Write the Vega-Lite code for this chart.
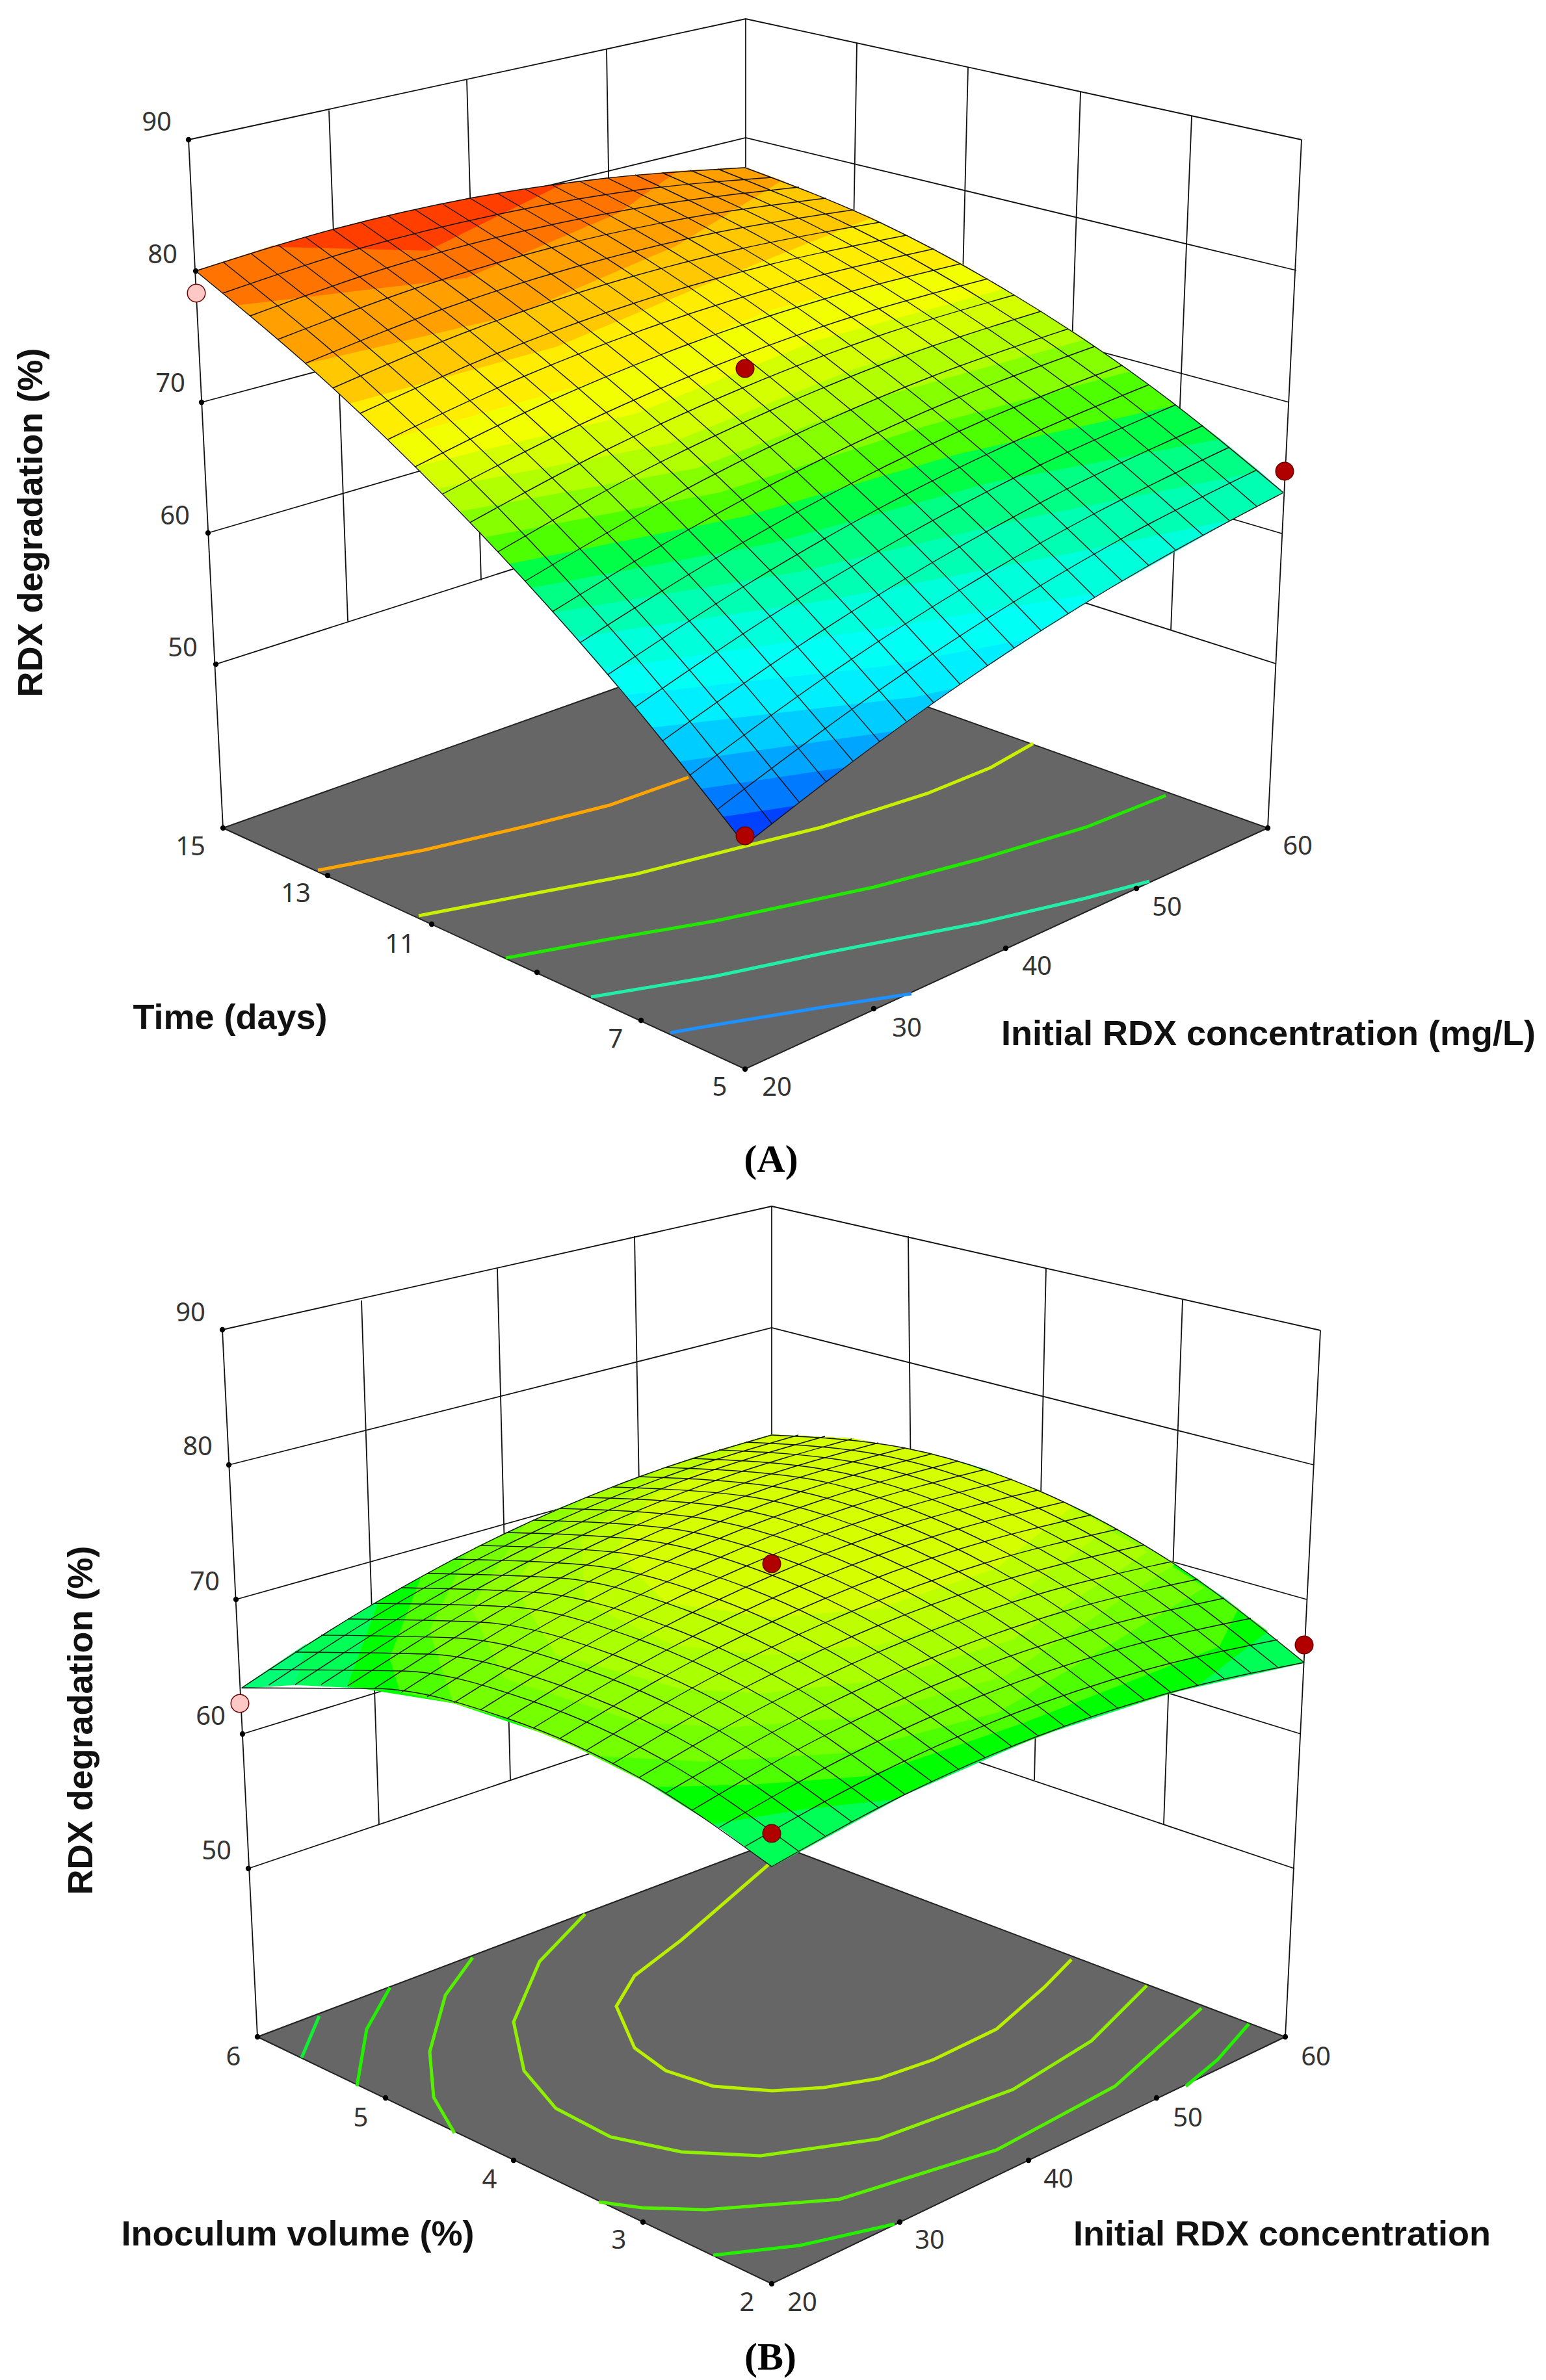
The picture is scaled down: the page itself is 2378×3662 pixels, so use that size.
{"$schema":"https://vega.github.io/schema/vega-lite/v6.json","width":2378,"height":3662,"padding":0,"autosize":"none","background":"white","config":{"view":{"stroke":null}},
"datasets":{
"walls":[
{"l":"a1","x":290,"y":215},{"l":"a1","x":1147,"y":29},{"l":"a1","x":2002,"y":215},
{"l":"a2","x":301,"y":417},{"l":"a2","x":1147,"y":212},{"l":"a2","x":1994,"y":416},
{"l":"a3","x":310,"y":619},{"l":"a3","x":1147,"y":395},{"l":"a3","x":1983,"y":619},
{"l":"a4","x":320,"y":820},{"l":"a4","x":1147,"y":578},{"l":"a4","x":1972,"y":821},
{"l":"a5","x":332,"y":1022},{"l":"a5","x":1147,"y":761},{"l":"a5","x":1962,"y":1021},
{"l":"a6","x":290,"y":215},{"l":"a6","x":343,"y":1274},
{"l":"a7","x":2002,"y":215},{"l":"a7","x":1950,"y":1274},
{"l":"a8","x":1147,"y":29},{"l":"a8","x":1147,"y":988},
{"l":"a9","x":506,"y":170},{"l":"a9","x":535,"y":956},
{"l":"a10","x":718,"y":123},{"l":"a10","x":740,"y":893},
{"l":"a11","x":933,"y":76},{"l":"a11","x":945,"y":825},
{"l":"a12","x":1318,"y":66},{"l":"a12","x":1305,"y":811},
{"l":"a13","x":1489,"y":104},{"l":"a13","x":1470,"y":864},
{"l":"a14","x":1662,"y":142},{"l":"a14","x":1636,"y":916},
{"l":"a15","x":1833,"y":179},{"l":"a15","x":1801,"y":969},
{"l":"b1","x":342,"y":2046},{"l":"b1","x":1187,"y":1856},{"l":"b1","x":2031,"y":2047},
{"l":"b2","x":352,"y":2254},{"l":"b2","x":1187,"y":2043},{"l":"b2","x":2021,"y":2254},
{"l":"b3","x":363,"y":2461},{"l":"b3","x":1187,"y":2230},{"l":"b3","x":2010,"y":2461},
{"l":"b4","x":373,"y":2668},{"l":"b4","x":1187,"y":2417},{"l":"b4","x":2001,"y":2668},
{"l":"b5","x":382,"y":2875},{"l":"b5","x":1187,"y":2604},{"l":"b5","x":1991,"y":2875},
{"l":"b6","x":342,"y":2046},{"l":"b6","x":396,"y":3134},
{"l":"b7","x":2031,"y":2047},{"l":"b7","x":1977,"y":3134},
{"l":"b8","x":1187,"y":1856},{"l":"b8","x":1187,"y":2835},
{"l":"b9","x":556,"y":2001},{"l":"b9","x":583,"y":2808},
{"l":"b10","x":765,"y":1952},{"l":"b10","x":785,"y":2738},
{"l":"b11","x":976,"y":1902},{"l":"b11","x":990,"y":2670},
{"l":"b12","x":1397,"y":1902},{"l":"b12","x":1405,"y":2670},
{"l":"b13","x":1609,"y":1951},{"l":"b13","x":1591,"y":2739},
{"l":"b14","x":1819,"y":2000},{"l":"b14","x":1790,"y":2806}
],
"floors":[
{"p":"a","o":0,"x":343,"y":1274},{"p":"a","o":1,"x":1146,"y":1645},{"p":"a","o":2,"x":1950,"y":1274},{"p":"a","o":3,"x":1147,"y":988},{"p":"a","o":4,"x":343,"y":1274},
{"p":"b","o":0,"x":396,"y":3134},{"p":"b","o":1,"x":1187,"y":3514},{"p":"b","o":2,"x":1977,"y":3134},{"p":"b","o":3,"x":1187,"y":2835},{"p":"b","o":4,"x":396,"y":3134}
],
"contours":[
{"l":"a70","v":"a70","x":489,"y":1339},{"l":"a70","v":"a70","x":652,"y":1308},{"l":"a70","v":"a70","x":815,"y":1270},{"l":"a70","v":"a70","x":937,"y":1239},{"l":"a70","v":"a70","x":1059,"y":1196},
{"l":"a65","v":"a65","x":644,"y":1409},{"l":"a65","v":"a65","x":815,"y":1376},{"l":"a65","v":"a65","x":978,"y":1345},{"l":"a65","v":"a65","x":1146,"y":1302},{"l":"a65","v":"a65","x":1263,"y":1273},{"l":"a65","v":"a65","x":1426,"y":1221},{"l":"a65","v":"a65","x":1524,"y":1181},{"l":"a65","v":"a65","x":1589,"y":1144},
{"l":"a60","v":"a60","x":778,"y":1474},{"l":"a60","v":"a60","x":937,"y":1445},{"l":"a60","v":"a60","x":1100,"y":1417},{"l":"a60","v":"a60","x":1344,"y":1365},{"l":"a60","v":"a60","x":1507,"y":1322},{"l":"a60","v":"a60","x":1670,"y":1273},{"l":"a60","v":"a60","x":1793,"y":1224},
{"l":"a55","v":"a55","x":909,"y":1534},{"l":"a55","v":"a55","x":1100,"y":1502},{"l":"a55","v":"a55","x":1270,"y":1466},{"l":"a55","v":"a55","x":1507,"y":1420},{"l":"a55","v":"a55","x":1670,"y":1382},{"l":"a55","v":"a55","x":1768,"y":1356},
{"l":"a50","v":"a50","x":1031,"y":1589},{"l":"a50","v":"a50","x":1100,"y":1577},{"l":"a50","v":"a50","x":1270,"y":1549},{"l":"a50","v":"a50","x":1402,"y":1529},
{"l":"b1","v":"b1","x":1182,"y":2869},{"l":"b1","v":"b1","x":1048,"y":2925},{"l":"b1","v":"b1","x":976,"y":3006},{"l":"b1","v":"b1","x":948,"y":3087}
],
"contours2":[
{"l":"c1","v":"b1","o":0,"x":1182,"y":2869},{"l":"c1","v":"b1","o":1,"x":1048,"y":2985},{"l":"c1","v":"b1","o":2,"x":976,"y":3040},{"l":"c1","v":"b1","o":3,"x":948,"y":3087},{"l":"c1","v":"b1","o":4,"x":976,"y":3151},{"l":"c1","v":"b1","o":5,"x":1024,"y":3186},{"l":"c1","v":"b1","o":6,"x":1097,"y":3210},{"l":"c1","v":"b1","o":7,"x":1188,"y":3217},{"l":"c1","v":"b1","o":8,"x":1267,"y":3212},{"l":"c1","v":"b1","o":9,"x":1352,"y":3198},{"l":"c1","v":"b1","o":10,"x":1436,"y":3169},{"l":"c1","v":"b1","o":11,"x":1533,"y":3122},{"l":"c1","v":"b1","o":12,"x":1606,"y":3058},{"l":"c1","v":"b1","o":13,"x":1648,"y":3015},
{"l":"c2","v":"b2","o":0,"x":900,"y":2945},{"l":"c2","v":"b2","o":1,"x":830,"y":3018},{"l":"c2","v":"b2","o":2,"x":790,"y":3111},{"l":"c2","v":"b2","o":3,"x":806,"y":3186},{"l":"c2","v":"b2","o":4,"x":855,"y":3244},{"l":"c2","v":"b2","o":5,"x":939,"y":3288},{"l":"c2","v":"b2","o":6,"x":1048,"y":3311},{"l":"c2","v":"b2","o":7,"x":1170,"y":3317},{"l":"c2","v":"b2","o":8,"x":1352,"y":3291},{"l":"c2","v":"b2","o":9,"x":1558,"y":3215},{"l":"c2","v":"b2","o":10,"x":1679,"y":3140},{"l":"c2","v":"b2","o":11,"x":1764,"y":3055},
{"l":"c3a","v":"b3","o":0,"x":727,"y":3012},{"l":"c3a","v":"b3","o":1,"x":685,"y":3070},{"l":"c3a","v":"b3","o":2,"x":661,"y":3157},{"l":"c3a","v":"b3","o":3,"x":667,"y":3227},{"l":"c3a","v":"b3","o":4,"x":699,"y":3282},
{"l":"c3b","v":"b3","o":0,"x":921,"y":3388},{"l":"c3b","v":"b3","o":1,"x":988,"y":3397},{"l":"c3b","v":"b3","o":2,"x":1085,"y":3400},{"l":"c3b","v":"b3","o":3,"x":1291,"y":3384},{"l":"c3b","v":"b3","o":4,"x":1533,"y":3308},{"l":"c3b","v":"b3","o":5,"x":1715,"y":3210},{"l":"c3b","v":"b3","o":6,"x":1848,"y":3090},
{"l":"c4a","v":"b4","o":0,"x":600,"y":3058},{"l":"c4a","v":"b4","o":1,"x":564,"y":3122},{"l":"c4a","v":"b4","o":2,"x":549,"y":3210},
{"l":"c4b","v":"b4","o":0,"x":1097,"y":3470},{"l":"c4b","v":"b4","o":1,"x":1230,"y":3455},{"l":"c4b","v":"b4","o":2,"x":1376,"y":3422},
{"l":"c4c","v":"b4","o":0,"x":1921,"y":3114},{"l":"c4c","v":"b4","o":1,"x":1873,"y":3169},{"l":"c4c","v":"b4","o":2,"x":1824,"y":3210},
{"l":"c5","v":"b5","o":0,"x":491,"y":3102},{"l":"c5","v":"b5","o":1,"x":464,"y":3166},
{"l":"d70","v":"a70","o":0,"x":489,"y":1339},{"l":"d70","v":"a70","o":1,"x":652,"y":1308},{"l":"d70","v":"a70","o":2,"x":815,"y":1270},{"l":"d70","v":"a70","o":3,"x":937,"y":1239},{"l":"d70","v":"a70","o":4,"x":1059,"y":1196},
{"l":"d65","v":"a65","o":0,"x":644,"y":1409},{"l":"d65","v":"a65","o":1,"x":815,"y":1376},{"l":"d65","v":"a65","o":2,"x":978,"y":1345},{"l":"d65","v":"a65","o":3,"x":1146,"y":1302},{"l":"d65","v":"a65","o":4,"x":1263,"y":1273},{"l":"d65","v":"a65","o":5,"x":1426,"y":1221},{"l":"d65","v":"a65","o":6,"x":1524,"y":1181},{"l":"d65","v":"a65","o":7,"x":1589,"y":1144},
{"l":"d60","v":"a60","o":0,"x":778,"y":1474},{"l":"d60","v":"a60","o":1,"x":937,"y":1445},{"l":"d60","v":"a60","o":2,"x":1100,"y":1417},{"l":"d60","v":"a60","o":3,"x":1344,"y":1365},{"l":"d60","v":"a60","o":4,"x":1507,"y":1322},{"l":"d60","v":"a60","o":5,"x":1670,"y":1273},{"l":"d60","v":"a60","o":6,"x":1793,"y":1224},
{"l":"d55","v":"a55","o":0,"x":909,"y":1534},{"l":"d55","v":"a55","o":1,"x":1100,"y":1502},{"l":"d55","v":"a55","o":2,"x":1270,"y":1466},{"l":"d55","v":"a55","o":3,"x":1507,"y":1420},{"l":"d55","v":"a55","o":4,"x":1670,"y":1382},{"l":"d55","v":"a55","o":5,"x":1768,"y":1356},
{"l":"d50","v":"a50","o":0,"x":1031,"y":1589},{"l":"d50","v":"a50","o":1,"x":1100,"y":1577},{"l":"d50","v":"a50","o":2,"x":1270,"y":1549},{"l":"d50","v":"a50","o":3,"x":1402,"y":1529}
],
"bands":[
{"p":"a00","o":0,"z":55.3,"x":1146,"y":1300},{"p":"a00","o":1,"z":55.3,"x":1223,"y":1239},{"p":"a00","o":2,"z":55.3,"x":1112,"y":1256},
{"p":"a01","o":0,"z":56.7,"x":1112,"y":1256},{"p":"a01","o":1,"z":56.7,"x":1223,"y":1239},{"p":"a01","o":2,"z":56.7,"x":1299,"y":1180},{"p":"a01","o":3,"z":56.7,"x":1078,"y":1213},
{"p":"a02","o":0,"z":58.1,"x":1078,"y":1213},{"p":"a02","o":1,"z":58.1,"x":1299,"y":1180},{"p":"a02","o":2,"z":58.1,"x":1376,"y":1124},{"p":"a02","o":3,"z":58.1,"x":1045,"y":1171},
{"p":"a03","o":0,"z":59.6,"x":1045,"y":1171},{"p":"a03","o":1,"z":59.6,"x":1376,"y":1124},{"p":"a03","o":2,"z":59.6,"x":1468,"y":1058},{"p":"a03","o":3,"z":59.6,"x":1405,"y":1072},{"p":"a03","o":4,"z":59.6,"x":1002,"y":1119},
{"p":"a04","o":0,"z":61,"x":1002,"y":1119},{"p":"a04","o":1,"z":61,"x":1405,"y":1072},{"p":"a04","o":2,"z":61,"x":1468,"y":1058},{"p":"a04","o":3,"z":61,"x":1583,"y":982},{"p":"a04","o":4,"z":61,"x":1363,"y":1024},{"p":"a04","o":5,"z":61,"x":960,"y":1069},
{"p":"a05","o":0,"z":62.4,"x":960,"y":1069},{"p":"a05","o":1,"z":62.4,"x":1363,"y":1024},{"p":"a05","o":2,"z":62.4,"x":1583,"y":982},{"p":"a05","o":3,"z":62.4,"x":1698,"y":910},{"p":"a05","o":4,"z":62.4,"x":1317,"y":972},{"p":"a05","o":5,"z":62.4,"x":926,"y":1029},
{"p":"a06","o":0,"z":63.8,"x":926,"y":1029},{"p":"a06","o":1,"z":63.8,"x":1317,"y":972},{"p":"a06","o":2,"z":63.8,"x":1698,"y":910},{"p":"a06","o":3,"z":63.8,"x":1895,"y":799},{"p":"a06","o":4,"z":63.8,"x":1640,"y":852},{"p":"a06","o":5,"z":63.8,"x":1271,"y":923},{"p":"a06","o":6,"z":63.8,"x":884,"y":980},
{"p":"a07","o":0,"z":65.3,"x":884,"y":980},{"p":"a07","o":1,"z":65.3,"x":1271,"y":923},{"p":"a07","o":2,"z":65.3,"x":1640,"y":852},{"p":"a07","o":3,"z":65.3,"x":1895,"y":799},{"p":"a07","o":4,"z":65.3,"x":1974,"y":758},{"p":"a07","o":5,"z":65.3,"x":1936,"y":725},{"p":"a07","o":6,"z":65.3,"x":1581,"y":796},{"p":"a07","o":7,"z":65.3,"x":1229,"y":879},{"p":"a07","o":8,"z":65.3,"x":850,"y":942},
{"p":"a08","o":0,"z":66.7,"x":850,"y":942},{"p":"a08","o":1,"z":66.7,"x":1229,"y":879},{"p":"a08","o":2,"z":66.7,"x":1581,"y":796},{"p":"a08","o":3,"z":66.7,"x":1936,"y":725},{"p":"a08","o":4,"z":66.7,"x":1875,"y":675},{"p":"a08","o":5,"z":66.7,"x":1523,"y":742},{"p":"a08","o":6,"z":66.7,"x":1187,"y":835},{"p":"a08","o":7,"z":66.7,"x":816,"y":904},
{"p":"a09","o":0,"z":68.1,"x":816,"y":904},{"p":"a09","o":1,"z":68.1,"x":1187,"y":835},{"p":"a09","o":2,"z":68.1,"x":1523,"y":742},{"p":"a09","o":3,"z":68.1,"x":1875,"y":675},{"p":"a09","o":4,"z":68.1,"x":1808,"y":623},{"p":"a09","o":5,"z":68.1,"x":1473,"y":698},{"p":"a09","o":6,"z":68.1,"x":1145,"y":794},{"p":"a09","o":7,"z":68.1,"x":783,"y":867},
{"p":"a10","o":0,"z":69.5,"x":783,"y":867},{"p":"a10","o":1,"z":69.5,"x":1145,"y":794},{"p":"a10","o":2,"z":69.5,"x":1473,"y":698},{"p":"a10","o":3,"z":69.5,"x":1808,"y":623},{"p":"a10","o":4,"z":69.5,"x":1738,"y":571},{"p":"a10","o":5,"z":69.5,"x":1423,"y":655},{"p":"a10","o":6,"z":69.5,"x":1107,"y":757},{"p":"a10","o":7,"z":69.5,"x":745,"y":826},
{"p":"a11","o":0,"z":70.9,"x":745,"y":826},{"p":"a11","o":1,"z":70.9,"x":1107,"y":757},{"p":"a11","o":2,"z":70.9,"x":1423,"y":655},{"p":"a11","o":3,"z":70.9,"x":1738,"y":571},{"p":"a11","o":4,"z":70.9,"x":1668,"y":522},{"p":"a11","o":5,"z":70.9,"x":1364,"y":607},{"p":"a11","o":6,"z":70.9,"x":1070,"y":720},{"p":"a11","o":7,"z":70.9,"x":707,"y":786},
{"p":"a12","o":0,"z":72.4,"x":707,"y":786},{"p":"a12","o":1,"z":72.4,"x":1070,"y":720},{"p":"a12","o":2,"z":72.4,"x":1364,"y":607},{"p":"a12","o":3,"z":72.4,"x":1668,"y":522},{"p":"a12","o":4,"z":72.4,"x":1601,"y":479},{"p":"a12","o":5,"z":72.4,"x":1314,"y":567},{"p":"a12","o":6,"z":72.4,"x":1028,"y":682},{"p":"a12","o":7,"z":72.4,"x":673,"y":751},
{"p":"a13","o":0,"z":73.8,"x":673,"y":751},{"p":"a13","o":1,"z":73.8,"x":1028,"y":682},{"p":"a13","o":2,"z":73.8,"x":1314,"y":567},{"p":"a13","o":3,"z":73.8,"x":1601,"y":479},{"p":"a13","o":4,"z":73.8,"x":1543,"y":444},{"p":"a13","o":5,"z":73.8,"x":1256,"y":523},{"p":"a13","o":6,"z":73.8,"x":977,"y":636},{"p":"a13","o":7,"z":73.8,"x":639,"y":717},
{"p":"a14","o":0,"z":75.2,"x":639,"y":717},{"p":"a14","o":1,"z":75.2,"x":977,"y":636},{"p":"a14","o":2,"z":75.2,"x":1256,"y":523},{"p":"a14","o":3,"z":75.2,"x":1543,"y":444},{"p":"a14","o":4,"z":75.2,"x":1477,"y":405},{"p":"a14","o":5,"z":75.2,"x":1189,"y":475},{"p":"a14","o":6,"z":75.2,"x":918,"y":585},{"p":"a14","o":7,"z":75.2,"x":597,"y":676},
{"p":"a15","o":0,"z":76.6,"x":597,"y":676},{"p":"a15","o":1,"z":76.6,"x":918,"y":585},{"p":"a15","o":2,"z":76.6,"x":1189,"y":475},{"p":"a15","o":3,"z":76.6,"x":1477,"y":405},{"p":"a15","o":4,"z":76.6,"x":1339,"y":335},{"p":"a15","o":5,"z":76.6,"x":1114,"y":425},{"p":"a15","o":6,"z":76.6,"x":855,"y":533},{"p":"a15","o":7,"z":76.6,"x":538,"y":620},
{"p":"a16","o":0,"z":78,"x":538,"y":620},{"p":"a16","o":1,"z":78,"x":855,"y":533},{"p":"a16","o":2,"z":78,"x":1114,"y":425},{"p":"a16","o":3,"z":78,"x":1339,"y":335},{"p":"a16","o":4,"z":78,"x":1201,"y":278},{"p":"a16","o":5,"z":78,"x":1039,"y":378},{"p":"a16","o":6,"z":78,"x":792,"y":484},{"p":"a16","o":7,"z":78,"x":470,"y":559},
{"p":"a17","o":0,"z":79.5,"x":470,"y":559},{"p":"a17","o":1,"z":79.5,"x":792,"y":484},{"p":"a17","o":2,"z":79.5,"x":1039,"y":378},{"p":"a17","o":3,"z":79.5,"x":1201,"y":278},{"p":"a17","o":4,"z":79.5,"x":1146,"y":258},{"p":"a17","o":5,"z":79.5,"x":1040,"y":264},{"p":"a17","o":6,"z":79.5,"x":951,"y":327},{"p":"a17","o":7,"z":79.5,"x":717,"y":427},{"p":"a17","o":8,"z":79.5,"x":364,"y":469},
{"p":"a18","o":0,"z":80.9,"x":364,"y":469},{"p":"a18","o":1,"z":80.9,"x":717,"y":427},{"p":"a18","o":2,"z":80.9,"x":951,"y":327},{"p":"a18","o":3,"z":80.9,"x":1040,"y":264},{"p":"a18","o":4,"z":80.9,"x":934,"y":274},{"p":"a18","o":5,"z":80.9,"x":864,"y":283},{"p":"a18","o":6,"z":80.9,"x":658,"y":385},{"p":"a18","o":7,"z":80.9,"x":419,"y":379},{"p":"a18","o":8,"z":80.9,"x":301,"y":417},
{"p":"a19","o":0,"z":82.3,"x":419,"y":379},{"p":"a19","o":1,"z":82.3,"x":658,"y":385},{"p":"a19","o":2,"z":82.3,"x":864,"y":283},{"p":"a19","o":3,"z":82.3,"x":723,"y":305},{"p":"a19","o":4,"z":82.3,"x":583,"y":335},{"p":"a19","o":5,"z":82.3,"x":512,"y":353},
{"p":"b0","o":0,"z":67.8,"x":1187,"y":2872},{"p":"b0","o":1,"z":67.8,"x":1392,"y":2761},{"p":"b0","o":2,"z":67.8,"x":1597,"y":2671},{"p":"b0","o":3,"z":67.8,"x":1801,"y":2604},{"p":"b0","o":4,"z":67.8,"x":2006,"y":2558},{"p":"b0","o":5,"z":67.8,"x":1883,"y":2459},{"p":"b0","o":6,"z":67.8,"x":1801,"y":2403},{"p":"b0","o":7,"z":67.8,"x":1678,"y":2331},{"p":"b0","o":8,"z":67.8,"x":1596,"y":2293},{"p":"b0","o":9,"z":67.8,"x":1515,"y":2261},{"p":"b0","o":10,"z":67.8,"x":1433,"y":2237},{"p":"b0","o":11,"z":67.8,"x":1310,"y":2214},{"p":"b0","o":12,"z":67.8,"x":1187,"y":2208},{"p":"b0","o":13,"z":67.8,"x":1024,"y":2258},{"p":"b0","o":14,"z":67.8,"x":861,"y":2321},{"p":"b0","o":15,"z":67.8,"x":698,"y":2399},{"p":"b0","o":16,"z":67.8,"x":576,"y":2467},{"p":"b0","o":17,"z":67.8,"x":454,"y":2542},{"p":"b0","o":18,"z":67.8,"x":372,"y":2597},{"p":"b0","o":19,"z":67.8,"x":454,"y":2592},{"p":"b0","o":20,"z":67.8,"x":576,"y":2598},{"p":"b0","o":21,"z":67.8,"x":698,"y":2620},{"p":"b0","o":22,"z":67.8,"x":780,"y":2644},{"p":"b0","o":23,"z":67.8,"x":902,"y":2693},{"p":"b0","o":24,"z":67.8,"x":983,"y":2735},{"p":"b0","o":25,"z":67.8,"x":1106,"y":2812},
{"p":"b1","o":0,"z":67.1,"x":372,"y":2597},{"p":"b1","o":1,"z":67.1,"x":470,"y":2531},{"p":"b1","o":2,"z":67.1,"x":453,"y":2592},
{"p":"b2","o":0,"z":68.8,"x":584,"y":2462},{"p":"b2","o":1,"z":68.8,"x":535,"y":2594},{"p":"b2","o":2,"z":68.8,"x":698,"y":2620},{"p":"b2","o":3,"z":68.8,"x":861,"y":2675},{"p":"b2","o":4,"z":68.8,"x":983,"y":2735},{"p":"b2","o":5,"z":68.8,"x":1097,"y":2806},{"p":"b2","o":6,"z":68.8,"x":1236,"y":2783},{"p":"b2","o":7,"z":68.8,"x":1375,"y":2768},{"p":"b2","o":8,"z":68.8,"x":1515,"y":2704},{"p":"b2","o":9,"z":68.8,"x":1678,"y":2641},{"p":"b2","o":10,"z":68.8,"x":1842,"y":2593},{"p":"b2","o":11,"z":68.8,"x":1949,"y":2510},{"p":"b2","o":12,"z":68.8,"x":1842,"y":2430},{"p":"b2","o":13,"z":68.8,"x":1703,"y":2345},{"p":"b2","o":14,"z":68.8,"x":1596,"y":2293},{"p":"b2","o":15,"z":68.8,"x":1433,"y":2237},{"p":"b2","o":16,"z":68.8,"x":1310,"y":2214},{"p":"b2","o":17,"z":68.8,"x":1187,"y":2208},{"p":"b2","o":18,"z":68.8,"x":1065,"y":2244},{"p":"b2","o":19,"z":68.8,"x":861,"y":2321},{"p":"b2","o":20,"z":68.8,"x":698,"y":2399},
{"p":"b3","o":0,"z":69.5,"x":649,"y":2425},{"p":"b3","o":1,"z":69.5,"x":600,"y":2551},{"p":"b3","o":2,"z":69.5,"x":616,"y":2603},{"p":"b3","o":3,"z":69.5,"x":698,"y":2620},{"p":"b3","o":4,"z":69.5,"x":780,"y":2644},{"p":"b3","o":5,"z":69.5,"x":861,"y":2675},{"p":"b3","o":6,"z":69.5,"x":1008,"y":2749},{"p":"b3","o":7,"z":69.5,"x":1160,"y":2745},{"p":"b3","o":8,"z":69.5,"x":1334,"y":2732},{"p":"b3","o":9,"z":69.5,"x":1572,"y":2651},{"p":"b3","o":10,"z":69.5,"x":1875,"y":2533},{"p":"b3","o":11,"z":69.5,"x":1904,"y":2475},{"p":"b3","o":12,"z":69.5,"x":1703,"y":2345},{"p":"b3","o":13,"z":69.5,"x":1596,"y":2293},{"p":"b3","o":14,"z":69.5,"x":1433,"y":2237},{"p":"b3","o":15,"z":69.5,"x":1310,"y":2214},{"p":"b3","o":16,"z":69.5,"x":1187,"y":2208},{"p":"b3","o":17,"z":69.5,"x":1065,"y":2244},{"p":"b3","o":18,"z":69.5,"x":861,"y":2321},{"p":"b3","o":19,"z":69.5,"x":730,"y":2382},
{"p":"b4","o":0,"z":70.4,"x":720,"y":2388},{"p":"b4","o":1,"z":70.4,"x":661,"y":2509},{"p":"b4","o":2,"z":70.4,"x":698,"y":2620},{"p":"b4","o":3,"z":70.4,"x":780,"y":2644},{"p":"b4","o":4,"z":70.4,"x":918,"y":2701},{"p":"b4","o":5,"z":70.4,"x":1085,"y":2710},{"p":"b4","o":6,"z":70.4,"x":1294,"y":2697},{"p":"b4","o":7,"z":70.4,"x":1535,"y":2634},{"p":"b4","o":8,"z":70.4,"x":1851,"y":2443},{"p":"b4","o":9,"z":70.4,"x":1703,"y":2345},{"p":"b4","o":10,"z":70.4,"x":1596,"y":2293},{"p":"b4","o":11,"z":70.4,"x":1433,"y":2237},{"p":"b4","o":12,"z":70.4,"x":1310,"y":2214},{"p":"b4","o":13,"z":70.4,"x":1187,"y":2208},{"p":"b4","o":14,"z":70.4,"x":1065,"y":2244},{"p":"b4","o":15,"z":70.4,"x":861,"y":2321},
{"p":"b5","o":0,"z":71.2,"x":809,"y":2345},{"p":"b5","o":1,"z":71.2,"x":725,"y":2473},{"p":"b5","o":2,"z":71.2,"x":776,"y":2582},{"p":"b5","o":3,"z":71.2,"x":983,"y":2650},{"p":"b5","o":4,"z":71.2,"x":1128,"y":2657},{"p":"b5","o":5,"z":71.2,"x":1323,"y":2641},{"p":"b5","o":6,"z":71.2,"x":1546,"y":2578},{"p":"b5","o":7,"z":71.2,"x":1807,"y":2406},{"p":"b5","o":8,"z":71.2,"x":1680,"y":2332},{"p":"b5","o":9,"z":71.2,"x":1596,"y":2293},{"p":"b5","o":10,"z":71.2,"x":1433,"y":2237},{"p":"b5","o":11,"z":71.2,"x":1310,"y":2214},{"p":"b5","o":12,"z":71.2,"x":1187,"y":2208},{"p":"b5","o":13,"z":71.2,"x":1065,"y":2244},{"p":"b5","o":14,"z":71.2,"x":942,"y":2288},
{"p":"b6","o":0,"z":72.1,"x":898,"y":2306},{"p":"b6","o":1,"z":72.1,"x":790,"y":2438},{"p":"b6","o":2,"z":72.1,"x":855,"y":2545},{"p":"b6","o":3,"z":72.1,"x":1048,"y":2598},{"p":"b6","o":4,"z":72.1,"x":1170,"y":2605},{"p":"b6","o":5,"z":72.1,"x":1352,"y":2585},{"p":"b6","o":6,"z":72.1,"x":1558,"y":2522},{"p":"b6","o":7,"z":72.1,"x":1764,"y":2388},{"p":"b6","o":8,"z":72.1,"x":1596,"y":2293},{"p":"b6","o":9,"z":72.1,"x":1433,"y":2237},{"p":"b6","o":10,"z":72.1,"x":1310,"y":2214},{"p":"b6","o":11,"z":72.1,"x":1187,"y":2208},{"p":"b6","o":12,"z":72.1,"x":1065,"y":2244},
{"p":"b7","o":0,"z":72.9,"x":1014,"y":2261},{"p":"b7","o":1,"z":72.9,"x":895,"y":2372},{"p":"b7","o":2,"z":72.9,"x":901,"y":2466},{"p":"b7","o":3,"z":72.9,"x":1036,"y":2531},{"p":"b7","o":4,"z":72.9,"x":1179,"y":2546},{"p":"b7","o":5,"z":72.9,"x":1352,"y":2530},{"p":"b7","o":6,"z":72.9,"x":1545,"y":2467},{"p":"b7","o":7,"z":72.9,"x":1706,"y":2350},{"p":"b7","o":8,"z":72.9,"x":1596,"y":2293},{"p":"b7","o":9,"z":72.9,"x":1433,"y":2237},{"p":"b7","o":10,"z":72.9,"x":1310,"y":2214},{"p":"b7","o":11,"z":72.9,"x":1187,"y":2208},{"p":"b7","o":12,"z":72.9,"x":1100,"y":2235},
{"p":"b8","o":0,"z":73.9,"x":1130,"y":2230},{"p":"b8","o":1,"z":73.9,"x":1000,"y":2305},{"p":"b8","o":2,"z":73.9,"x":948,"y":2388},{"p":"b8","o":3,"z":73.9,"x":1024,"y":2465},{"p":"b8","o":4,"z":73.9,"x":1188,"y":2488},{"p":"b8","o":5,"z":73.9,"x":1352,"y":2474},{"p":"b8","o":6,"z":73.9,"x":1533,"y":2412},{"p":"b8","o":7,"z":73.9,"x":1648,"y":2318},{"p":"b8","o":8,"z":73.9,"x":1555,"y":2276},{"p":"b8","o":9,"z":73.9,"x":1433,"y":2237},{"p":"b8","o":10,"z":73.9,"x":1310,"y":2214},{"p":"b8","o":11,"z":73.9,"x":1187,"y":2208}
],
"grid":[
{"l":"aj0","x":1146,"y":1300},{"l":"aj0","x":1353,"y":1141},{"l":"aj0","x":1560,"y":997},{"l":"aj0","x":1767,"y":870},{"l":"aj0","x":1974,"y":758},
{"l":"aj1","x":1104,"y":1245},{"l":"aj1","x":1311,"y":1091},{"l":"aj1","x":1518,"y":952},{"l":"aj1","x":1725,"y":829},{"l":"aj1","x":1933,"y":723},
{"l":"aj2","x":1062,"y":1192},{"l":"aj2","x":1269,"y":1042},{"l":"aj2","x":1476,"y":908},{"l":"aj2","x":1684,"y":790},{"l":"aj2","x":1891,"y":688},
{"l":"aj3","x":1019,"y":1140},{"l":"aj3","x":1227,"y":995},{"l":"aj3","x":1435,"y":865},{"l":"aj3","x":1642,"y":752},{"l":"aj3","x":1850,"y":655},
{"l":"aj4","x":977,"y":1088},{"l":"aj4","x":1185,"y":948},{"l":"aj4","x":1393,"y":824},{"l":"aj4","x":1601,"y":715},{"l":"aj4","x":1808,"y":623},
{"l":"aj5","x":935,"y":1038},{"l":"aj5","x":1143,"y":903},{"l":"aj5","x":1351,"y":783},{"l":"aj5","x":1559,"y":680},{"l":"aj5","x":1767,"y":592},
{"l":"aj6","x":892,"y":989},{"l":"aj6","x":1101,"y":859},{"l":"aj6","x":1309,"y":744},{"l":"aj6","x":1517,"y":645},{"l":"aj6","x":1726,"y":562},
{"l":"aj7","x":850,"y":941},{"l":"aj7","x":1059,"y":815},{"l":"aj7","x":1267,"y":705},{"l":"aj7","x":1476,"y":611},{"l":"aj7","x":1684,"y":533},
{"l":"aj8","x":808,"y":894},{"l":"aj8","x":1017,"y":773},{"l":"aj8","x":1225,"y":668},{"l":"aj8","x":1434,"y":579},{"l":"aj8","x":1643,"y":506},
{"l":"aj9","x":766,"y":849},{"l":"aj9","x":975,"y":732},{"l":"aj9","x":1184,"y":632},{"l":"aj9","x":1393,"y":547},{"l":"aj9","x":1601,"y":479},
{"l":"aj10","x":723,"y":804},{"l":"aj10","x":933,"y":692},{"l":"aj10","x":1142,"y":597},{"l":"aj10","x":1351,"y":517},{"l":"aj10","x":1560,"y":454},
{"l":"aj11","x":681,"y":760},{"l":"aj11","x":891,"y":654},{"l":"aj11","x":1100,"y":563},{"l":"aj11","x":1309,"y":488},{"l":"aj11","x":1519,"y":429},
{"l":"aj12","x":639,"y":718},{"l":"aj12","x":848,"y":616},{"l":"aj12","x":1058,"y":530},{"l":"aj12","x":1268,"y":460},{"l":"aj12","x":1477,"y":406},
{"l":"aj13","x":597,"y":676},{"l":"aj13","x":806,"y":579},{"l":"aj13","x":1016,"y":498},{"l":"aj13","x":1226,"y":433},{"l":"aj13","x":1436,"y":383},
{"l":"aj14","x":554,"y":636},{"l":"aj14","x":764,"y":544},{"l":"aj14","x":974,"y":467},{"l":"aj14","x":1184,"y":407},{"l":"aj14","x":1394,"y":362},
{"l":"aj15","x":512,"y":597},{"l":"aj15","x":722,"y":509},{"l":"aj15","x":933,"y":437},{"l":"aj15","x":1143,"y":382},{"l":"aj15","x":1353,"y":342},
{"l":"aj16","x":470,"y":559},{"l":"aj16","x":680,"y":476},{"l":"aj16","x":891,"y":409},{"l":"aj16","x":1101,"y":358},{"l":"aj16","x":1312,"y":323},
{"l":"aj17","x":428,"y":522},{"l":"aj17","x":638,"y":444},{"l":"aj17","x":849,"y":381},{"l":"aj17","x":1060,"y":335},{"l":"aj17","x":1270,"y":305},
{"l":"aj18","x":385,"y":486},{"l":"aj18","x":596,"y":412},{"l":"aj18","x":807,"y":355},{"l":"aj18","x":1018,"y":314},{"l":"aj18","x":1229,"y":288},
{"l":"aj19","x":343,"y":451},{"l":"aj19","x":554,"y":382},{"l":"aj19","x":765,"y":330},{"l":"aj19","x":976,"y":293},{"l":"aj19","x":1187,"y":273},
{"l":"aj20","x":301,"y":417},{"l":"aj20","x":512,"y":353},{"l":"aj20","x":723,"y":305},{"l":"aj20","x":934,"y":274},{"l":"aj20","x":1146,"y":258},
{"l":"ai0","x":1146,"y":1300},{"l":"ai0","x":935,"y":1038},{"l":"ai0","x":723,"y":804},{"l":"ai0","x":512,"y":597},{"l":"ai0","x":301,"y":417},
{"l":"ai1","x":1187,"y":1267},{"l":"ai1","x":977,"y":1010},{"l":"ai1","x":765,"y":780},{"l":"ai1","x":554,"y":578},{"l":"ai1","x":343,"y":403},
{"l":"ai2","x":1229,"y":1234},{"l":"ai2","x":1018,"y":982},{"l":"ai2","x":807,"y":757},{"l":"ai2","x":596,"y":560},{"l":"ai2","x":386,"y":390},
{"l":"ai3","x":1270,"y":1202},{"l":"ai3","x":1060,"y":955},{"l":"ai3","x":849,"y":735},{"l":"ai3","x":638,"y":542},{"l":"ai3","x":428,"y":377},
{"l":"ai4","x":1312,"y":1171},{"l":"ai4","x":1101,"y":929},{"l":"ai4","x":891,"y":713},{"l":"ai4","x":680,"y":525},{"l":"ai4","x":470,"y":365},
{"l":"ai5","x":1353,"y":1141},{"l":"ai5","x":1143,"y":903},{"l":"ai5","x":933,"y":692},{"l":"ai5","x":722,"y":509},{"l":"ai5","x":512,"y":353},
{"l":"ai6","x":1394,"y":1110},{"l":"ai6","x":1185,"y":878},{"l":"ai6","x":974,"y":672},{"l":"ai6","x":764,"y":494},{"l":"ai6","x":555,"y":342},
{"l":"ai7","x":1436,"y":1081},{"l":"ai7","x":1226,"y":853},{"l":"ai7","x":1016,"y":652},{"l":"ai7","x":806,"y":479},{"l":"ai7","x":597,"y":332},
{"l":"ai8","x":1477,"y":1053},{"l":"ai8","x":1268,"y":829},{"l":"ai8","x":1058,"y":633},{"l":"ai8","x":848,"y":464},{"l":"ai8","x":639,"y":323},
{"l":"ai9","x":1519,"y":1024},{"l":"ai9","x":1309,"y":806},{"l":"ai9","x":1100,"y":614},{"l":"ai9","x":890,"y":451},{"l":"ai9","x":681,"y":314},
{"l":"ai10","x":1560,"y":997},{"l":"ai10","x":1351,"y":783},{"l":"ai10","x":1142,"y":597},{"l":"ai10","x":933,"y":437},{"l":"ai10","x":723,"y":305},
{"l":"ai11","x":1601,"y":970},{"l":"ai11","x":1393,"y":761},{"l":"ai11","x":1184,"y":580},{"l":"ai11","x":975,"y":425},{"l":"ai11","x":766,"y":298},
{"l":"ai12","x":1643,"y":944},{"l":"ai12","x":1434,"y":740},{"l":"ai12","x":1225,"y":563},{"l":"ai12","x":1017,"y":413},{"l":"ai12","x":808,"y":291},
{"l":"ai13","x":1684,"y":919},{"l":"ai13","x":1476,"y":719},{"l":"ai13","x":1267,"y":547},{"l":"ai13","x":1059,"y":402},{"l":"ai13","x":850,"y":285},
{"l":"ai14","x":1726,"y":894},{"l":"ai14","x":1517,"y":699},{"l":"ai14","x":1309,"y":532},{"l":"ai14","x":1101,"y":392},{"l":"ai14","x":892,"y":279},
{"l":"ai15","x":1767,"y":870},{"l":"ai15","x":1559,"y":680},{"l":"ai15","x":1351,"y":517},{"l":"ai15","x":1143,"y":382},{"l":"ai15","x":935,"y":274},
{"l":"ai16","x":1808,"y":846},{"l":"ai16","x":1601,"y":661},{"l":"ai16","x":1393,"y":503},{"l":"ai16","x":1185,"y":373},{"l":"ai16","x":977,"y":269},
{"l":"ai17","x":1850,"y":823},{"l":"ai17","x":1642,"y":643},{"l":"ai17","x":1435,"y":490},{"l":"ai17","x":1227,"y":364},{"l":"ai17","x":1019,"y":266},
{"l":"ai18","x":1891,"y":801},{"l":"ai18","x":1684,"y":625},{"l":"ai18","x":1476,"y":477},{"l":"ai18","x":1269,"y":356},{"l":"ai18","x":1062,"y":262},
{"l":"ai19","x":1933,"y":779},{"l":"ai19","x":1726,"y":608},{"l":"ai19","x":1518,"y":465},{"l":"ai19","x":1311,"y":349},{"l":"ai19","x":1104,"y":260},
{"l":"ai20","x":1974,"y":758},{"l":"ai20","x":1767,"y":592},{"l":"ai20","x":1560,"y":454},{"l":"ai20","x":1353,"y":342},{"l":"ai20","x":1146,"y":258},
{"l":"bj0","x":1187,"y":2872},{"l":"bj0","x":1392,"y":2761},{"l":"bj0","x":1597,"y":2671},{"l":"bj0","x":1801,"y":2604},{"l":"bj0","x":2006,"y":2558},
{"l":"bj1","x":1146,"y":2841},{"l":"bj1","x":1351,"y":2729},{"l":"bj1","x":1556,"y":2638},{"l":"bj1","x":1760,"y":2570},{"l":"bj1","x":1965,"y":2523},
{"l":"bj2","x":1106,"y":2812},{"l":"bj2","x":1310,"y":2699},{"l":"bj2","x":1515,"y":2607},{"l":"bj2","x":1719,"y":2538},{"l":"bj2","x":1924,"y":2490},
{"l":"bj3","x":1065,"y":2785},{"l":"bj3","x":1269,"y":2670},{"l":"bj3","x":1474,"y":2578},{"l":"bj3","x":1679,"y":2508},{"l":"bj3","x":1883,"y":2459},
{"l":"bj4","x":1024,"y":2759},{"l":"bj4","x":1229,"y":2644},{"l":"bj4","x":1433,"y":2551},{"l":"bj4","x":1638,"y":2479},{"l":"bj4","x":1842,"y":2430},
{"l":"bj5","x":983,"y":2735},{"l":"bj5","x":1188,"y":2619},{"l":"bj5","x":1392,"y":2525},{"l":"bj5","x":1597,"y":2453},{"l":"bj5","x":1801,"y":2403},
{"l":"bj6","x":942,"y":2714},{"l":"bj6","x":1147,"y":2596},{"l":"bj6","x":1351,"y":2501},{"l":"bj6","x":1556,"y":2428},{"l":"bj6","x":1760,"y":2377},
{"l":"bj7","x":902,"y":2693},{"l":"bj7","x":1106,"y":2575},{"l":"bj7","x":1311,"y":2479},{"l":"bj7","x":1515,"y":2405},{"l":"bj7","x":1719,"y":2353},
{"l":"bj8","x":861,"y":2675},{"l":"bj8","x":1065,"y":2556},{"l":"bj8","x":1270,"y":2459},{"l":"bj8","x":1474,"y":2384},{"l":"bj8","x":1678,"y":2331},
{"l":"bj9","x":820,"y":2659},{"l":"bj9","x":1025,"y":2539},{"l":"bj9","x":1229,"y":2441},{"l":"bj9","x":1433,"y":2365},{"l":"bj9","x":1637,"y":2311},
{"l":"bj10","x":780,"y":2644},{"l":"bj10","x":984,"y":2523},{"l":"bj10","x":1188,"y":2424},{"l":"bj10","x":1392,"y":2347},{"l":"bj10","x":1596,"y":2293},
{"l":"bj11","x":739,"y":2631},{"l":"bj11","x":943,"y":2509},{"l":"bj11","x":1147,"y":2410},{"l":"bj11","x":1351,"y":2332},{"l":"bj11","x":1556,"y":2276},
{"l":"bj12","x":698,"y":2620},{"l":"bj12","x":902,"y":2497},{"l":"bj12","x":1106,"y":2397},{"l":"bj12","x":1310,"y":2318},{"l":"bj12","x":1515,"y":2261},
{"l":"bj13","x":657,"y":2611},{"l":"bj13","x":861,"y":2487},{"l":"bj13","x":1065,"y":2385},{"l":"bj13","x":1270,"y":2306},{"l":"bj13","x":1474,"y":2248},
{"l":"bj14","x":617,"y":2604},{"l":"bj14","x":821,"y":2479},{"l":"bj14","x":1025,"y":2376},{"l":"bj14","x":1229,"y":2296},{"l":"bj14","x":1433,"y":2237},
{"l":"bj15","x":576,"y":2598},{"l":"bj15","x":780,"y":2472},{"l":"bj15","x":984,"y":2369},{"l":"bj15","x":1188,"y":2287},{"l":"bj15","x":1392,"y":2228},
{"l":"bj16","x":535,"y":2594},{"l":"bj16","x":739,"y":2468},{"l":"bj16","x":943,"y":2363},{"l":"bj16","x":1147,"y":2281},{"l":"bj16","x":1351,"y":2220},
{"l":"bj17","x":494,"y":2592},{"l":"bj17","x":698,"y":2465},{"l":"bj17","x":902,"y":2359},{"l":"bj17","x":1106,"y":2276},{"l":"bj17","x":1310,"y":2214},
{"l":"bj18","x":454,"y":2592},{"l":"bj18","x":657,"y":2464},{"l":"bj18","x":861,"y":2357},{"l":"bj18","x":1065,"y":2273},{"l":"bj18","x":1269,"y":2210},
{"l":"bj19","x":413,"y":2593},{"l":"bj19","x":616,"y":2464},{"l":"bj19","x":821,"y":2357},{"l":"bj19","x":1024,"y":2272},{"l":"bj19","x":1228,"y":2208},
{"l":"bj20","x":372,"y":2597},{"l":"bj20","x":576,"y":2467},{"l":"bj20","x":780,"y":2358},{"l":"bj20","x":984,"y":2272},{"l":"bj20","x":1187,"y":2208},
{"l":"bi0","x":1187,"y":2872},{"l":"bi0","x":983,"y":2735},{"l":"bi0","x":780,"y":2644},{"l":"bi0","x":576,"y":2598},{"l":"bi0","x":372,"y":2597},
{"l":"bi1","x":1228,"y":2848},{"l":"bi1","x":1024,"y":2710},{"l":"bi1","x":820,"y":2618},{"l":"bi1","x":617,"y":2571},{"l":"bi1","x":413,"y":2569},
{"l":"bi2","x":1269,"y":2825},{"l":"bi2","x":1065,"y":2686},{"l":"bi2","x":861,"y":2593},{"l":"bi2","x":657,"y":2545},{"l":"bi2","x":454,"y":2542},
{"l":"bi3","x":1310,"y":2803},{"l":"bi3","x":1106,"y":2663},{"l":"bi3","x":902,"y":2569},{"l":"bi3","x":698,"y":2520},{"l":"bi3","x":494,"y":2516},
{"l":"bi4","x":1351,"y":2781},{"l":"bi4","x":1147,"y":2641},{"l":"bi4","x":943,"y":2546},{"l":"bi4","x":739,"y":2496},{"l":"bi4","x":535,"y":2491},
{"l":"bi5","x":1392,"y":2761},{"l":"bi5","x":1188,"y":2619},{"l":"bi5","x":984,"y":2523},{"l":"bi5","x":780,"y":2472},{"l":"bi5","x":576,"y":2467},
{"l":"bi6","x":1433,"y":2741},{"l":"bi6","x":1228,"y":2599},{"l":"bi6","x":1025,"y":2502},{"l":"bi6","x":821,"y":2450},{"l":"bi6","x":617,"y":2443},
{"l":"bi7","x":1474,"y":2722},{"l":"bi7","x":1269,"y":2579},{"l":"bi7","x":1065,"y":2481},{"l":"bi7","x":861,"y":2428},{"l":"bi7","x":657,"y":2421},
{"l":"bi8","x":1515,"y":2704},{"l":"bi8","x":1310,"y":2560},{"l":"bi8","x":1106,"y":2461},{"l":"bi8","x":902,"y":2408},{"l":"bi8","x":698,"y":2399},
{"l":"bi9","x":1556,"y":2687},{"l":"bi9","x":1351,"y":2542},{"l":"bi9","x":1147,"y":2442},{"l":"bi9","x":943,"y":2388},{"l":"bi9","x":739,"y":2378},
{"l":"bi10","x":1597,"y":2671},{"l":"bi10","x":1392,"y":2525},{"l":"bi10","x":1188,"y":2424},{"l":"bi10","x":984,"y":2369},{"l":"bi10","x":780,"y":2358},
{"l":"bi11","x":1637,"y":2656},{"l":"bi11","x":1433,"y":2509},{"l":"bi11","x":1229,"y":2407},{"l":"bi11","x":1024,"y":2351},{"l":"bi11","x":820,"y":2339},
{"l":"bi12","x":1678,"y":2641},{"l":"bi12","x":1474,"y":2494},{"l":"bi12","x":1270,"y":2391},{"l":"bi12","x":1065,"y":2334},{"l":"bi12","x":861,"y":2321},
{"l":"bi13","x":1719,"y":2628},{"l":"bi13","x":1515,"y":2479},{"l":"bi13","x":1311,"y":2376},{"l":"bi13","x":1106,"y":2317},{"l":"bi13","x":902,"y":2304},
{"l":"bi14","x":1760,"y":2615},{"l":"bi14","x":1556,"y":2465},{"l":"bi14","x":1351,"y":2361},{"l":"bi14","x":1147,"y":2302},{"l":"bi14","x":943,"y":2288},
{"l":"bi15","x":1801,"y":2604},{"l":"bi15","x":1597,"y":2453},{"l":"bi15","x":1392,"y":2347},{"l":"bi15","x":1188,"y":2287},{"l":"bi15","x":983,"y":2272},
{"l":"bi16","x":1842,"y":2593},{"l":"bi16","x":1637,"y":2441},{"l":"bi16","x":1433,"y":2335},{"l":"bi16","x":1229,"y":2273},{"l":"bi16","x":1024,"y":2258},
{"l":"bi17","x":1883,"y":2583},{"l":"bi17","x":1678,"y":2430},{"l":"bi17","x":1474,"y":2323},{"l":"bi17","x":1269,"y":2261},{"l":"bi17","x":1065,"y":2244},
{"l":"bi18","x":1924,"y":2574},{"l":"bi18","x":1719,"y":2420},{"l":"bi18","x":1515,"y":2312},{"l":"bi18","x":1310,"y":2249},{"l":"bi18","x":1106,"y":2231},
{"l":"bi19","x":1965,"y":2565},{"l":"bi19","x":1760,"y":2411},{"l":"bi19","x":1556,"y":2302},{"l":"bi19","x":1351,"y":2238},{"l":"bi19","x":1147,"y":2219},
{"l":"bi20","x":2006,"y":2558},{"l":"bi20","x":1801,"y":2403},{"l":"bi20","x":1596,"y":2293},{"l":"bi20","x":1392,"y":2228},{"l":"bi20","x":1187,"y":2208}
],
"ticks":[
{"x":290,"y":215},{"x":301,"y":417},{"x":310,"y":619},{"x":320,"y":820},{"x":332,"y":1022},{"x":343,"y":1274},{"x":504,"y":1347},{"x":664,"y":1422},{"x":826,"y":1496},{"x":986,"y":1570},{"x":1146,"y":1645},{"x":1344,"y":1552},{"x":1547,"y":1459},{"x":1748,"y":1367},{"x":1950,"y":1274},
{"x":342,"y":2046},{"x":352,"y":2254},{"x":363,"y":2461},{"x":373,"y":2668},{"x":382,"y":2875},{"x":396,"y":3134},{"x":593,"y":3228},{"x":790,"y":3324},{"x":989,"y":3419},{"x":1187,"y":3514},{"x":1384,"y":3419},{"x":1582,"y":3324},{"x":1779,"y":3228},{"x":1977,"y":3134}
],
"markers":[
{"x":1146,"y":567,"k":"above"},{"x":1976,"y":725,"k":"above"},{"x":1146,"y":1286,"k":"above"},{"x":302,"y":451,"k":"below"},
{"x":1187,"y":2406,"k":"above"},{"x":2006,"y":2531,"k":"above"},{"x":1187,"y":2821,"k":"above"},{"x":369,"y":2621,"k":"below"}
],
"labels":[
{"x":241,"y":189,"t":"90"},{"x":250,"y":393,"t":"80"},{"x":262,"y":591,"t":"70"},{"x":269,"y":795,"t":"60"},{"x":281,"y":998,"t":"50"},{"x":293,"y":1304,"t":"15"},{"x":455,"y":1376,"t":"13"},{"x":615,"y":1454,"t":"11"},{"x":947,"y":1600,"t":"7"},{"x":1107,"y":1674,"t":"5"},{"x":1195,"y":1674,"t":"20"},{"x":1395,"y":1583,"t":"30"},{"x":1595,"y":1488,"t":"40"},{"x":1795,"y":1397,"t":"50"},{"x":1996,"y":1303,"t":"60"},
{"x":293,"y":2021,"t":"90"},{"x":304,"y":2227,"t":"80"},{"x":315,"y":2435,"t":"70"},{"x":324,"y":2642,"t":"60"},{"x":333,"y":2849,"t":"50"},{"x":359,"y":3166,"t":"6"},{"x":555,"y":3260,"t":"5"},{"x":753,"y":3355,"t":"4"},{"x":952,"y":3448,"t":"3"},{"x":1149,"y":3544,"t":"2"},{"x":1234,"y":3544,"t":"20"},{"x":1430,"y":3448,"t":"30"},{"x":1628,"y":3354,"t":"40"},{"x":1827,"y":3260,"t":"50"},{"x":2024,"y":3166,"t":"60"}
]
},
"encoding":{"x":{"field":"x","type":"quantitative","scale":{"domain":[0,2378]},"axis":null},"y":{"field":"y","type":"quantitative","scale":{"domain":[0,3662],"reverse":true},"axis":null}},
"layer":[
{"data":{"name":"walls"},"mark":{"type":"line","stroke":"#111111","strokeWidth":1.8},"encoding":{"detail":{"field":"l"}}},
{"data":{"name":"floors"},"mark":{"type":"line","fill":"#666666","stroke":"#222222","strokeWidth":2},"encoding":{"detail":{"field":"p"},"order":{"field":"o"}}},
{"data":{"name":"contours2"},"mark":{"type":"line","strokeWidth":5,"interpolate":"linear","strokeCap":"butt"},"encoding":{"detail":{"field":"l"},"order":{"field":"o"},"stroke":{"field":"v","type":"nominal","legend":null,"scale":{"domain":["a70","a65","a60","a55","a50","b1","b2","b3","b4","b5"],"range":["#ffa500","#c8f000","#22e800","#22eea8","#1e90ff","#b8f000","#90f000","#55f000","#22f000","#11ee33"]}}}},
{"data":{"name":"bands"},"mark":{"type":"line","strokeWidth":1.5},"encoding":{"detail":{"field":"p"},"order":{"field":"o"},
"fill":{"field":"z","type":"quantitative","legend":null,"scale":{"domain":[54.6,61.7,68.8,75.9,83],"range":["#0000ff","#00ffff","#00ff00","#ffff00","#ff0000"]}},
"stroke":{"field":"z","type":"quantitative","legend":null,"scale":{"domain":[54.6,61.7,68.8,75.9,83],"range":["#0000ff","#00ffff","#00ff00","#ffff00","#ff0000"]}}}},
{"data":{"name":"grid"},"mark":{"type":"line","stroke":"#111111","strokeWidth":1.4,"interpolate":"monotone"},"encoding":{"detail":{"field":"l"}}},
{"data":{"name":"ticks"},"mark":{"type":"point","filled":true,"size":70,"color":"#000000","opacity":1}},
{"data":{"name":"markers"},"mark":{"type":"point","filled":true,"size":760,"stroke":"#6a0000","strokeWidth":1.5,"opacity":1},"encoding":{"fill":{"field":"k","type":"nominal","legend":null,"scale":{"domain":["above","below"],"range":["#b00000","#ffc8c4"]}}}},
{"data":{"name":"labels"},"mark":{"type":"text","font":"Noto Sans","fontSize":40,"baseline":"middle","fill":"#333333"},"encoding":{"text":{"field":"t"}}},
{"data":{"values":[{"x":1951,"y":1592,"t":"Initial RDX concentration (mg/L)"},{"x":354,"y":1567,"t":"Time (days)"},{"x":458,"y":3439,"t":"Inoculum volume (%)"},{"x":1972,"y":3439,"t":"Initial RDX concentration"}]},"mark":{"type":"text","font":"Liberation Sans","fontWeight":"bold","fontSize":54,"baseline":"middle","fill":"#111111"},"encoding":{"text":{"field":"t"}}},
{"data":{"values":[{"x":49,"y":804,"t":"RDX degradation (%)"},{"x":126,"y":2647,"t":"RDX degradation (%)"}]},"mark":{"type":"text","font":"Liberation Sans","fontWeight":"bold","fontSize":54,"angle":270,"baseline":"middle","fill":"#111111"},"encoding":{"text":{"field":"t"}}},
{"data":{"values":[{"x":1186,"y":1785,"t":"(A)"},{"x":1185,"y":3628,"t":"(B)"}]},"mark":{"type":"text","font":"Liberation Serif","fontWeight":"bold","fontSize":60,"baseline":"middle","fill":"#000000"},"encoding":{"text":{"field":"t"}}}
]}
